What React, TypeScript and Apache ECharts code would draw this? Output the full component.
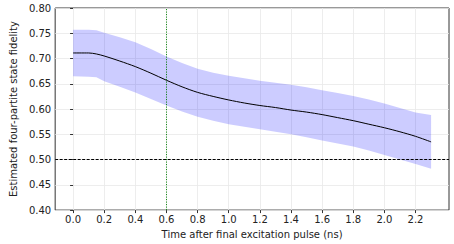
import React, { useEffect, useRef } from "react";
import * as echarts from "echarts";

const times = [0, 0.1, 0.15, 0.2, 0.3, 0.4, 0.5, 0.6, 0.7, 0.8, 0.9, 1.0, 1.1, 1.2, 1.3, 1.4, 1.5, 1.6, 1.7, 1.8, 1.9, 2.0, 2.1, 2.2, 2.3];
const meanFid = [0.711, 0.711, 0.709, 0.705, 0.695, 0.684, 0.671, 0.657, 0.644, 0.633, 0.625, 0.618, 0.612, 0.607, 0.603, 0.598, 0.594, 0.589, 0.583, 0.577, 0.570, 0.563, 0.555, 0.546, 0.535];
const upperFid = [0.757, 0.757, 0.756, 0.751, 0.742, 0.732, 0.719, 0.704, 0.691, 0.680, 0.672, 0.666, 0.661, 0.656, 0.652, 0.648, 0.643, 0.637, 0.632, 0.626, 0.619, 0.611, 0.602, 0.593, 0.588];
const lowerFid = [0.665, 0.664, 0.663, 0.655, 0.644, 0.633, 0.620, 0.607, 0.595, 0.585, 0.577, 0.570, 0.565, 0.560, 0.555, 0.550, 0.544, 0.538, 0.532, 0.526, 0.518, 0.509, 0.500, 0.491, 0.482];
const xTicks = [0, 0.2, 0.4, 0.6, 0.8, 1.0, 1.2, 1.4, 1.6, 1.8, 2.0, 2.2];
const threshold = 0.5;
const markTime = 0.6;

const FONT = "DejaVu Sans";

export default function App() {
  const ref = useRef<HTMLDivElement>(null);
  useEffect(() => {
    if (!ref.current) return;
    const chart = echarts.init(ref.current, undefined, { renderer: "svg" });
    chart.setOption({
      animation: false,
      grid: { left: 42, right: 5, top: 8, bottom: 29, show: true, borderColor: "#333", borderWidth: 1, backgroundColor: "transparent" },
      xAxis: {
        type: "value",
        min: -0.115,
        max: 2.415,
        name: "Time after final excitation pulse (ns)",
        nameLocation: "middle",
        nameGap: 18,
        nameTextStyle: { fontFamily: FONT, fontSize: 10, color: "#222" },
        axisLine: { show: false },
        axisTick: { show: true, customValues: xTicks, length: 3, lineStyle: { color: "#333" } },
        axisLabel: { customValues: xTicks, fontFamily: FONT, fontSize: 10, color: "#222", margin: 4, formatter: (v: number) => v.toFixed(1) },
        splitLine: { show: true, lineStyle: { color: "#e8e8e8", width: 0.8 } },
      },
      yAxis: {
        type: "value",
        min: 0.4,
        max: 0.8,
        interval: 0.05,
        name: "Estimated four-partite state fidelity",
        nameLocation: "middle",
        nameGap: 31,
        nameTextStyle: { fontFamily: FONT, fontSize: 10, color: "#222" },
        axisLine: { show: false },
        axisTick: { show: true, length: 3, lineStyle: { color: "#333" } },
        axisLabel: { fontFamily: FONT, fontSize: 10, color: "#222", margin: 4, formatter: (v: number) => v.toFixed(2) },
        splitLine: { show: true, lineStyle: { color: "#e8e8e8", width: 0.8 } },
      },
      series: [
        {
          type: "custom",
          silent: true,
          data: [[0]],
          renderItem: (params: any, api: any) => {
            const pts: number[][] = [];
            for (let i = 0; i < times.length; i++) pts.push(api.coord([times[i], upperFid[i]]));
            for (let i = times.length - 1; i >= 0; i--) pts.push(api.coord([times[i], lowerFid[i]]));
            return {
              type: "polygon",
              shape: { points: pts, smooth: 0 },
              style: { fill: "rgba(0,0,255,0.2)", stroke: "none" },
            };
          },
          z: 1,
        },
        {
          type: "line",
          data: times.map((t, i) => [t, meanFid[i]]),
          symbol: "none",
          smooth: 0.3,
          lineStyle: { color: "#000", width: 1 },
          z: 3,
          markLine: {
            silent: true,
            symbol: "none",
            label: { show: false },
            data: [
              { yAxis: threshold, lineStyle: { color: "#000", type: [3, 1.5], width: 1 } },
              { xAxis: markTime, lineStyle: { color: "#008000", type: [1, 1.5], width: 1 } },
            ],
          },
        },
      ],
    });
    return () => chart.dispose();
  }, []);
  return <div ref={ref} style={{ width: 454, height: 244, position: "absolute", left: 0, top: 0 }} />;
}
